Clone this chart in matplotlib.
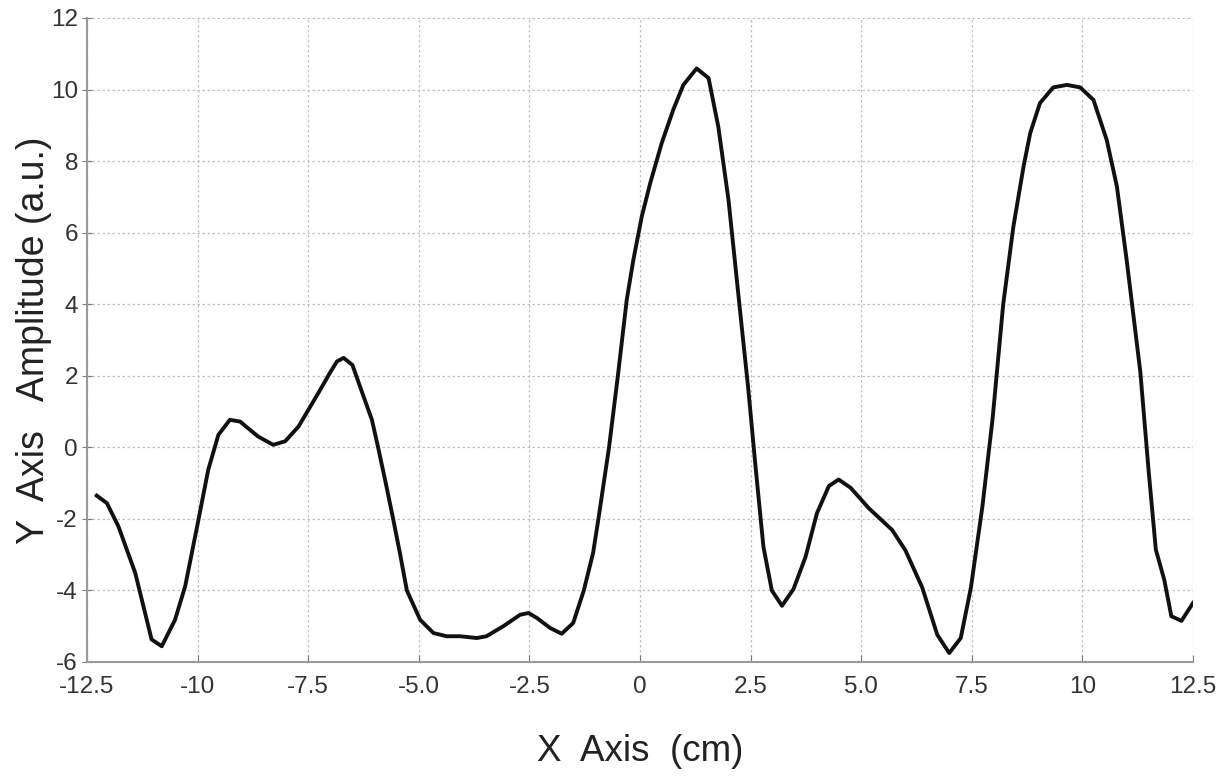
import matplotlib
matplotlib.use('Agg')
import matplotlib.pyplot as plt

# sampled trace, position in cm and amplitude in a.u.
x_cm = [-12.28, -12.05, -11.79, -11.41, -11.04, -10.81, -10.51, -10.28, -9.98, -9.76,
        -9.53, -9.27, -9.04, -8.63, -8.29, -8.02, -7.72, -7.27, -7.0, -6.85,
        -6.7, -6.5, -6.3, -6.06, -5.92, -5.74, -5.58, -5.42, -5.27, -4.97,
        -4.67, -4.37, -4.07, -3.69, -3.47, -3.09, -2.71, -2.52, -2.33, -2.03,
        -1.77, -1.51, -1.27, -1.06, -0.94, -0.70, -0.50, -0.30, -0.15, 0.04,
        0.23, 0.49, 0.75, 0.98, 1.28, 1.55, 1.77, 2.0, 2.22, 2.45,
        2.61, 2.79, 2.98, 3.21, 3.47, 3.74, 4.0, 4.27, 4.49, 4.76,
        5.17, 5.70, 6.0, 6.38, 6.72, 6.99, 7.25, 7.48, 7.74, 7.97,
        8.21, 8.44, 8.67, 8.82, 9.04, 9.34, 9.65, 9.95, 10.25, 10.55,
        10.78, 11.0, 11.31, 11.5, 11.66, 11.85, 12.01, 12.24, 12.5]
amp = [-1.35, -1.56, -2.21, -3.51, -5.37, -5.56, -4.82, -3.88, -2.02, -0.63,
       0.35, 0.77, 0.72, 0.30, 0.07, 0.17, 0.58, 1.52, 2.1, 2.4,
       2.5, 2.3, 1.6, 0.77, 0.0, -1.04, -2.0, -3.0, -4.0, -4.82,
       -5.19, -5.28, -5.28, -5.33, -5.28, -5.0, -4.68, -4.63, -4.77, -5.05,
       -5.21, -4.91, -4.0, -2.95, -2.0, 0.0, 2.0, 4.12, 5.24, 6.45,
       7.38, 8.50, 9.43, 10.13, 10.59, 10.32, 8.96, 6.92, 4.31, 1.6,
       -0.52, -2.78, -4.0, -4.43, -3.96, -3.07, -1.84, -1.08, -0.90, -1.13,
       -1.70, -2.31, -2.88, -3.92, -5.24, -5.75, -5.33, -3.92, -1.65, 0.8,
       4.0, 6.17, 7.85, 8.78, 9.62, 10.06, 10.13, 10.06, 9.71, 8.59,
       7.29, 5.24, 2.1, -0.7, -2.86, -3.7, -4.72, -4.85, -4.35]

xticks = [-12.5, -10, -7.5, -5.0, -2.5, 0, 2.5, 5.0, 7.5, 10, 12.5]
xtick_labels = ['-12.5', '-10', '-7.5', '-5.0', '-2.5', '0', '2.5', '5.0', '7.5', '10', '12.5']
yticks = [12, 10, 8, 6, 4, 2, 0, -2, -4, -6]
ytick_labels = ['12', '10', '8', '6', '4', '2', '0', '-2', '-4', '-6']

plt.rcParams['font.family'] = ['Liberation Sans', 'DejaVu Sans']

fig = plt.figure(figsize=(12.25, 7.82), dpi=100)
ax = fig.add_axes([87 / 1225, 1 - 662 / 782, (1193 - 87) / 1225, (662 - 18) / 782])

ax.plot(x_cm, amp, color='#111111', linewidth=2.8, solid_joinstyle='round')

ax.set_xlim(-12.5, 12.5)
ax.set_ylim(-6, 12)
ax.set_xticks(xticks)
ax.set_xticklabels(xtick_labels)
ax.set_yticks(yticks)
ax.set_yticklabels(ytick_labels)

ax.grid(True, color='#c0c0c0', linestyle=(0, (2, 2)), linewidth=0.9)
for side in ['top', 'right']:
    ax.spines[side].set_visible(False)
for side in ['left', 'bottom']:
    ax.spines[side].set_color('#9a9a9a')
    ax.spines[side].set_linewidth(1.5)

ax.tick_params(axis='x', direction='in', length=5, color='#777777',
               labelsize=17.5, labelcolor='#333333', pad=10)
ax.tick_params(axis='y', direction='inout', length=7, color='#777777',
               labelsize=17.5, labelcolor='#333333', pad=3)

ax.set_xlabel('X  Axis  (cm)', fontsize=26.5, color='#222222')
ax.set_ylabel('Y  Axis   Amplitude (a.u.)', fontsize=27, color='#222222')
ax.xaxis.set_label_coords(0.5, -0.112)
ax.yaxis.set_label_coords(-0.032, 0.5)

fig.savefig('out.png', dpi=100)
